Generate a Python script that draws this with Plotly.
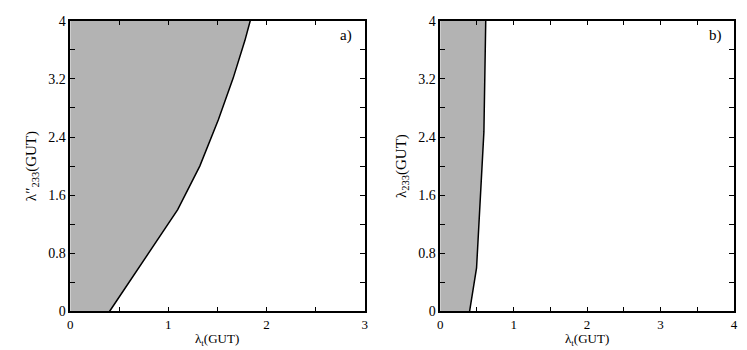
import plotly.graph_objects as go
from plotly.subplots import make_subplots

# boundary of the shaded region, panel a)
a_lam_t = [0.40, 0.60, 0.80, 1.00, 1.095, 1.17, 1.32, 1.51, 1.66, 1.78, 1.834]
a_lam_233 = [0.0, 0.4, 0.8, 1.2, 1.4, 1.6, 2.0, 2.64, 3.21, 3.73, 4.0]

# boundary of the shaded region, panel b)
b_lam_t = [0.40, 0.495, 0.595, 0.62]
b_lam_233 = [0.0, 0.6, 2.47, 4.0]

Y_TICKS = [0, 0.8, 1.6, 2.4, 3.2, 4]
Y_TICK_TEXT = ["0", "0.8", "1.6", "2.4", "3.2", "4"]

FONT = "Liberation Serif"
SHADE = "#b3b3b3"

fig = make_subplots(rows=1, cols=2)

fig.add_trace(
    go.Scatter(x=a_lam_t, y=a_lam_233, mode="lines", fill="tozerox",
               fillcolor=SHADE, line=dict(color="black", width=1.5)),
    row=1, col=1,
)
fig.add_trace(
    go.Scatter(x=b_lam_t, y=b_lam_233, mode="lines", fill="tozerox",
               fillcolor=SHADE, line=dict(color="black", width=1.5)),
    row=1, col=2,
)

axis_style = dict(
    showline=True, linecolor="black", linewidth=1.5, mirror="ticks",
    ticks="inside", ticklen=5, tickwidth=1, tickcolor="black",
    showgrid=False, zeroline=False, ticklabeloverflow="allow",
    tickfont=dict(family=FONT, size=14, color="black"),
)

fig.update_xaxes(**axis_style)
fig.update_yaxes(**axis_style)

fig.update_xaxes(tickfont=dict(family=FONT, size=13, color="black"))
fig.update_xaxes(range=[0, 3], dtick=1, tick0=0,
                 minor=dict(dtick=0.5, ticks="inside", ticklen=5, tickcolor="black"),
                 domain=[0.080, 0.478], row=1, col=1)
fig.update_xaxes(range=[0, 4], dtick=1, tick0=0,
                 minor=dict(dtick=0.5, ticks="inside", ticklen=5, tickcolor="black"),
                 domain=[0.580, 0.977], row=1, col=2)
fig.update_yaxes(range=[0, 4], tickvals=Y_TICKS, ticktext=Y_TICK_TEXT,
                 minor=dict(dtick=0.4, tick0=0, ticks="inside", ticklen=5, tickcolor="black"),
                 domain=[0.115, 0.983])

y_title_font = dict(family=FONT, size=15, color="black")
fig.update_yaxes(title=dict(text="λ″<sub>233</sub>(GUT)", font=y_title_font, standoff=8),
                 row=1, col=1)
fig.update_yaxes(title=dict(text="λ<sub>233</sub>(GUT)", font=y_title_font, standoff=8),
                 row=1, col=2)

# x titles as annotations so the subscript is not clipped at the bottom edge
for xref in ["x", "x2"]:
    fig.add_annotation(
        x=0.5, y=0, xref=f"{xref} domain", yref="paper",
        text="λ<sub>t</sub>(GUT)", showarrow=False,
        xanchor="center", yanchor="bottom",
        font=dict(family=FONT, size=13, color="black"),
    )

for xref, yref, label in [("x", "y", "a)"), ("x2", "y2", "b)")]:
    fig.add_annotation(
        x=0.965, y=0.95, xref=f"{xref} domain", yref=f"{yref} domain",
        text=label, showarrow=False, xanchor="right", yanchor="middle",
        font=dict(family=FONT, size=15, color="black"),
    )

fig.update_layout(
    width=747, height=350,
    margin=dict(l=0, r=0, t=0, b=0),
    paper_bgcolor="white", plot_bgcolor="white",
    font=dict(family=FONT, color="black"),
    showlegend=False,
)

fig.write_html("out.html")
